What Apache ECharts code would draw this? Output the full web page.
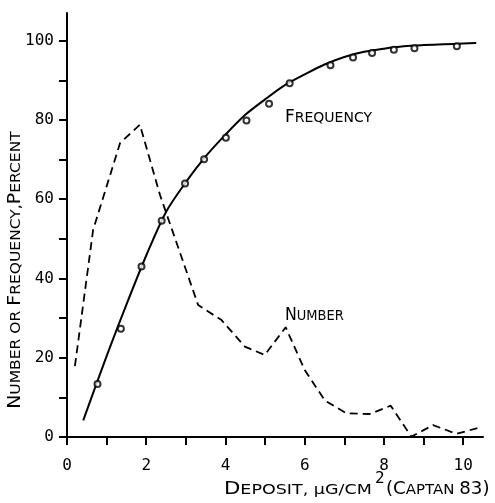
<!DOCTYPE html>
<html>
<head>
<meta charset="utf-8">
<script src="https://cdn.jsdelivr.net/npm/echarts@6/dist/echarts.min.js"></script>
<style>html,body{margin:0;padding:0;background:#fff}#c{width:495px;height:503px}</style>
</head>
<body>
<div id="c"></div>
<script>
// Observed frequency points (deposit, percent)
const freqX = [0.77, 1.36, 1.88, 2.39, 2.98, 3.46, 4.01, 4.53, 5.10, 5.62, 6.65, 7.22, 7.70, 8.25, 8.77, 9.84];
const freqY = [13.4, 27.3, 43.0, 54.6, 64.0, 70.1, 75.5, 79.9, 84.1, 89.3, 93.8, 95.8, 96.9, 97.7, 98.1, 98.6];
// Fitted frequency curve
const curveX = [0.41, 1.0, 1.5, 2.0, 2.5, 3.0, 3.5, 4.0, 4.5, 5.0, 5.5, 6.0, 6.5, 7.0, 7.5, 8.0, 8.5, 9.0, 9.5, 10.0, 10.33];
const curveY = [4.2, 20.4, 33.4, 45.8, 56.8, 64.3, 70.8, 76.3, 81.3, 85.2, 88.8, 91.5, 94.0, 95.9, 97.2, 98.0, 98.6, 98.9, 99.1, 99.3, 99.4];
// Number distribution (dashed)
const numberX = [0.20, 0.66, 1.34, 1.84, 2.35, 3.31, 3.90, 4.49, 4.99, 5.52, 6.00, 6.51, 7.05, 7.64, 8.17, 8.69, 9.24, 9.83, 10.42];
const numberY = [17.9, 52.3, 74.2, 78.8, 61.0, 33.3, 29.5, 22.8, 20.7, 27.7, 16.9, 9.2, 6.0, 5.8, 7.9, 0.1, 3.0, 0.8, 2.4];
// Axis ticks and labels
const xTicks = [0, 1, 2, 3, 4, 5, 6, 7, 8, 9, 10];
const xLabels = [0, 2, 4, 6, 8, 10];
const yTicks = [0, 10, 20, 30, 40, 50, 60, 70, 80, 90, 100];
const yLabels = [0, 20, 40, 60, 80, 100];

const pair = (xs, ys) => xs.map((x, i) => [x, ys[i]]);
const SC = 'DejaVu Sans';
const MONO = 'DejaVu Sans Mono';
const richSC = {a: {fontFamily: SC, fontSize: 17, fill: '#000'}, b: {fontFamily: SC, fontSize: 14, fill: '#000'}};

const chart = echarts.init(document.getElementById('c'), null, {renderer: 'canvas'});
chart.setOption({
  animation: false,
  backgroundColor: '#fff',
  grid: {left: 67, right: 12, top: 13, bottom: 66, containLabel: false},
  xAxis: {
    type: 'value', min: 0, max: 10.5,
    axisLine: {show: true, lineStyle: {color: '#000', width: 2}},
    axisTick: {show: true, length: 8, customValues: xTicks, lineStyle: {color: '#000', width: 2}},
    axisLabel: {customValues: xLabels, margin: 21, color: '#000', fontFamily: MONO, fontSize: 16},
    splitLine: {show: false}
  },
  yAxis: {
    type: 'value', min: 0, max: 107,
    axisLine: {show: true, lineStyle: {color: '#000', width: 2}},
    axisTick: {show: true, length: 8, customValues: yTicks, lineStyle: {color: '#000', width: 2}},
    axisLabel: {customValues: yLabels, margin: 13, color: '#000', fontFamily: MONO, fontSize: 16},
    splitLine: {show: false}
  },
  series: [
    {
      type: 'line', data: pair(numberX, numberY), symbol: 'none',
      lineStyle: {color: '#000', width: 1.8, type: [8, 5]}, z: 2
    },
    {
      type: 'line', data: pair(curveX, curveY), symbol: 'none', smooth: 0.3,
      lineStyle: {color: '#000', width: 2}, z: 3
    },
    {
      type: 'scatter', data: pair(freqX, freqY), symbol: 'emptyCircle', symbolSize: 6,
      itemStyle: {color: '#000', borderColor: '#000', borderWidth: 1.6}, z: 4
    }
  ],
  graphic: [
    {
      type: 'text', x: 285, y: 118,
      style: {text: '{a|F}{b|REQUENCY}', textVerticalAlign: 'middle', textAlign: 'left', rich: richSC}
    },
    {
      type: 'text', x: 285, y: 316, scaleX: 0.93,
      style: {text: '{a|N}{b|UMBER}', textVerticalAlign: 'middle', textAlign: 'left', rich: richSC}
    },
    {
      type: 'text', x: 16, y: 270, rotation: Math.PI / 2, scaleX: 1.11,
      style: {
        text: '{a|N}{b|UMBER OR }{a|F}{b|REQUENCY,}{a|P}{b|ERCENT}', textVerticalAlign: 'middle', textAlign: 'center',
        rich: richSC
      }
    },
    {
      type: 'text', x: 224, y: 490, scaleX: 1.25,
      style: {text: '{a|D}{b|EPOSIT, µG/CM}', textVerticalAlign: 'middle', textAlign: 'left', rich: richSC}
    },
    {
      type: 'text', x: 375, y: 479,
      style: {text: '2', textVerticalAlign: 'middle', textAlign: 'left', fontFamily: MONO, fontSize: 16, fill: '#000'}
    },
    {
      type: 'text', x: 386, y: 490, scaleX: 1.07,
      style: {text: '{a|(C}{b|APTAN }{a|83)}', textVerticalAlign: 'middle', textAlign: 'left', rich: richSC}
    }
  ]
});
</script>
</body>
</html>
